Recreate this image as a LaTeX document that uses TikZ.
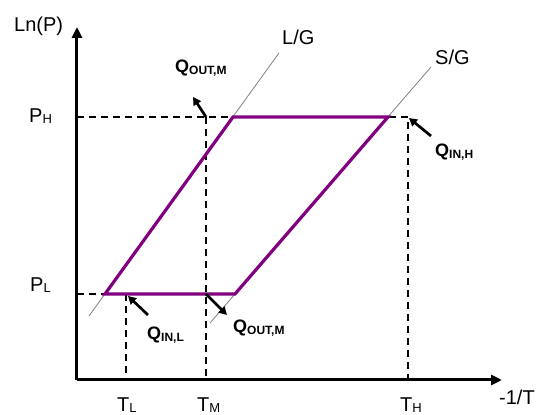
\documentclass[tikz,border=0pt]{standalone}
\usepackage{fontspec}
\setmainfont{Liberation Sans}
\usetikzlibrary{arrows.meta}
\definecolor{cyc}{HTML}{800080}
\newcommand{\subtxt}[2]{#1\raisebox{-1pt}{\fontsize{13}{13}\selectfont #2}}
\newcommand{\qsub}[1]{Q\raisebox{-2pt}{\fontsize{12}{12}\selectfont\bfseries #1}}

\begin{document}
\begin{tikzpicture}[
    x=1pt,y=1pt,
    axis/.style={line width=3pt,-{Triangle[length=11pt,width=10pt]}},
    loop/.style={draw=cyc,line width=3.2pt,line join=miter},
    guide/.style={black,line width=2pt,dash pattern=on 7pt off 5pt},
    equil/.style={gray,line width=0.8pt},
    heat/.style={line width=2.7pt,-{Triangle[length=8pt,width=8.5pt]}},
    lbl/.style={font=\fontsize{20}{24}\selectfont,inner sep=0pt,anchor=base west},
    qlbl/.style={font=\fontsize{18}{20}\selectfont\bfseries,inner sep=0pt,anchor=base west}
]
\useasboundingbox (-77,-35) rectangle (459,380);

% Cycle corners and guide points
\coordinate (O) at (0,0);
\coordinate (A) at (28,86);
\coordinate (B) at (156,263);
\coordinate (C) at (311,263);
\coordinate (D) at (158,86);
\coordinate (hP) at (0,263);
\coordinate (lP) at (0,86);
\coordinate (hT) at (331,263);
\coordinate (mT) at (129,263);
\coordinate (mL) at (129,86);
\coordinate (lT) at (49,86);

% Dashed guides
\draw[guide] (hP) -- (hT) -- (331,0);
\draw[guide] (lP) -- (A);
\draw[guide] (mT) -- (129,0);
\draw[guide] (lT) -- (49,0);

% Equilibrium lines
\draw[equil] (12,64) -- (202,327);
\draw[equil] (133,57) -- (354,313);

% Cycle
\draw[loop] (A) -- (B) -- (C) -- (D) -- cycle;

% Heat flows
\coordinate (qoutT) at (116,283);
\coordinate (qinH) at (354,244);
\coordinate (qinL) at (71,65);
\coordinate (qoutB) at (150,65);
\draw[heat] (mT) -- (qoutT);
\draw[heat] (qinH) -- (332,262);
\draw[heat] (qinL) -- (51,84);
\draw[heat] (mL) -- (qoutB);

% Axes
\draw[axis] (O) -- (0,353);
\draw[axis] (O) -- (425,0);

% Labels
\node[lbl] (lnp) at (-63,348) {Ln(P)};
\node[lbl] (ph) at (-48,257) {\subtxt{P}{H}};
\node[lbl] (pl) at (-47,88) {\subtxt{P}{L}};
\node[lbl] (tl) at (40,-32) {\subtxt{T}{L}};
\node[lbl] (tm) at (120,-32) {\subtxt{T}{M}};
\node[lbl] (th) at (323,-32) {\subtxt{T}{H}};
\node[lbl] (invt) at (422,-25) {-1/T};
\node[lbl] (lg) at (205,335) {L/G};
\node[lbl] (sg) at (358,315) {S/G};
\node[qlbl] (qa) at (98,307) {\qsub{OUT,M}};
\node[qlbl] (qb) at (358,223) {\qsub{IN,H}};
\node[qlbl] (qc) at (70,40) {\qsub{IN,L}};
\node[qlbl] (qd) at (156,47) {\qsub{OUT,M}};
\end{tikzpicture}
\end{document}
